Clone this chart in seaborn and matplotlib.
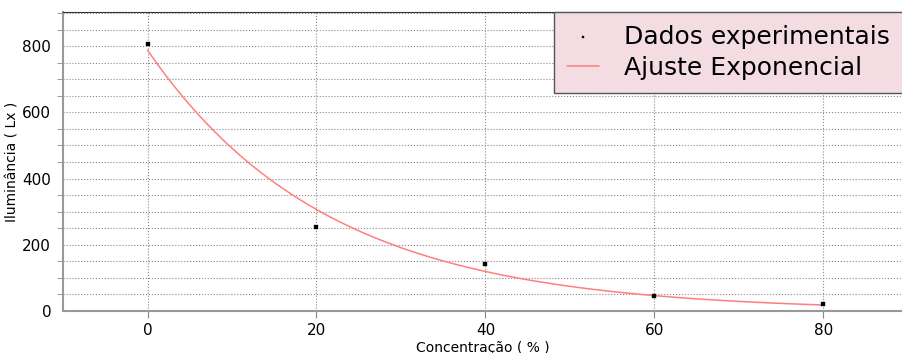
import seaborn as sns
import matplotlib.pyplot as plt
import numpy as np
import pandas as pd
from matplotlib.ticker import MultipleLocator

# measured points
concentracao = [0, 20, 40, 60, 80]
iluminancia = [806, 254, 142, 45, 21]

# exponential fit y = a * exp(-b x)
fit_a = 788
fit_b = 0.0472

df = pd.DataFrame({'conc': concentracao, 'lux': iluminancia})
x_fit = np.linspace(0, 80, 200)
df_fit = pd.DataFrame({'conc': x_fit, 'lux': fit_a * np.exp(-fit_b * x_fit)})

sns.set_style('white')
plt.rcParams['font.family'] = ['DejaVu Sans']
plt.rcParams['text.color'] = 'black'
plt.rcParams['axes.labelcolor'] = 'black'
plt.rcParams['xtick.color'] = 'black'
plt.rcParams['ytick.color'] = 'black'

fig = plt.figure(figsize=(9.03, 3.53), dpi=100)
ax = fig.add_axes([0.0698, 0.119, 0.930, 0.847])

sns.lineplot(data=df_fit, x='conc', y='lux', color='#ff7f7f', linewidth=1.1, ax=ax,
             label='Ajuste Exponencial', zorder=3)
sns.scatterplot(data=df, x='conc', y='lux', color='black', marker='s', s=10,
                edgecolor='black', ax=ax, label='Dados experimentais', zorder=4)

ax.set_xlim(-10, 89.4)
ax.set_ylim(0, 903)
ax.xaxis.set_major_locator(MultipleLocator(20))
ax.yaxis.set_major_locator(MultipleLocator(200))
ax.yaxis.set_minor_locator(MultipleLocator(50))

ax.grid(True, which='major', axis='both', linestyle=':', color='#888888', linewidth=0.8)
ax.grid(True, which='minor', axis='y', linestyle=':', color='#888888', linewidth=0.8)

ax.tick_params(axis='both', which='major', labelsize=11, length=5, direction='out')
ax.tick_params(axis='y', which='minor', length=4, left=True)
ax.tick_params(axis='x', which='major', bottom=True)
ax.tick_params(axis='both', which='both', color='#888888')

for s in ['left', 'bottom']:
    ax.spines[s].set_color('#999999')
    ax.spines[s].set_linewidth(1.5)
ax.spines['top'].set_color('#333333')
ax.spines['right'].set_visible(False)

ax.set_xlabel('Concentração ( % )', fontsize=10, labelpad=2)
ax.set_ylabel('Iluminância ( Lx )', fontsize=10, labelpad=2)

handles, labels = ax.get_legend_handles_labels()
leg = ax.legend(handles[::-1], labels[::-1], loc='upper right', bbox_to_anchor=(1.0, 1.0),
                fontsize=18, frameon=True, fancybox=False, borderaxespad=0,
                handlelength=1.3, handletextpad=1.0, borderpad=0.5, labelspacing=0.3,
                markerscale=0.6)
leg.get_frame().set_facecolor('#f3dde3')
leg.get_frame().set_edgecolor('#555555')
leg.get_frame().set_alpha(1)

fig.savefig('out.png', dpi=100)
